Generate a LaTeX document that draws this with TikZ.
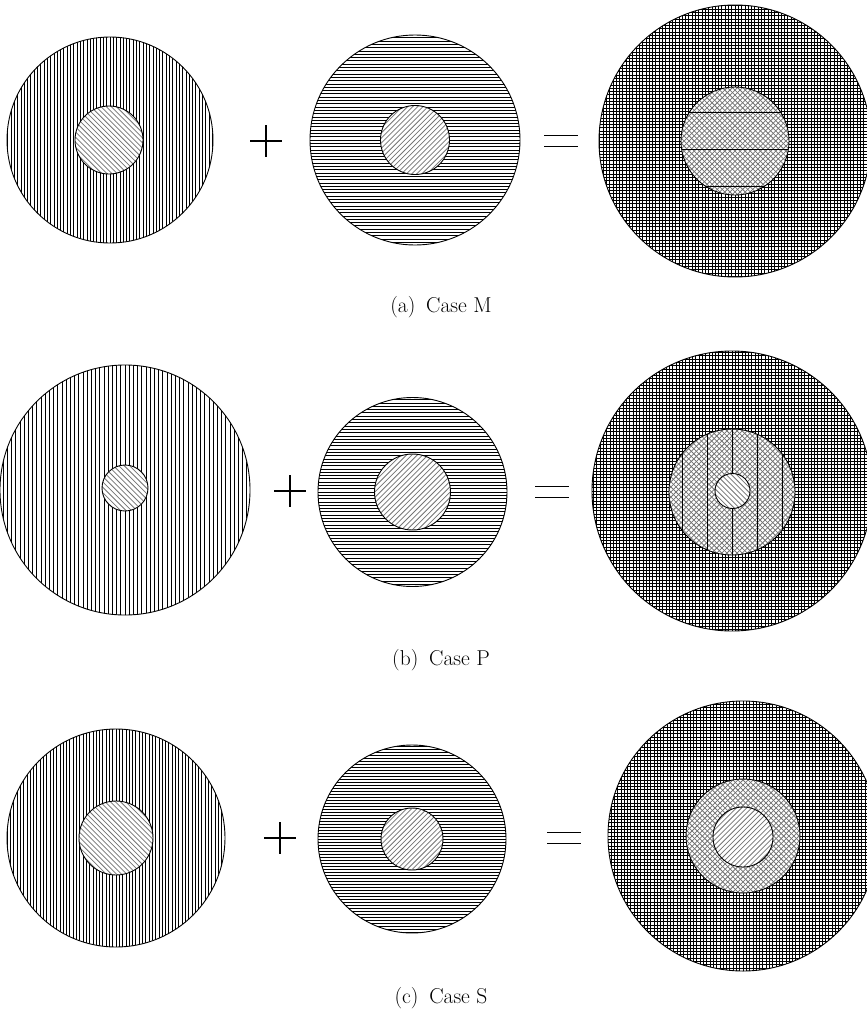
\documentclass[tikz,border=0pt]{standalone}
\usetikzlibrary{calc}
\tikzset{
  outline/.style={draw=black, line width=0.9pt},
  blk/.style={black, line width=0.75pt},
  gry/.style={black!55, line width=0.75pt},
  seam/.style={black, line width=0.8pt},
  sign/.style={line width=1.6pt, line cap=butt},
  captext/.style={font=\fontsize{21.5}{24}\selectfont, inner sep=0pt}
}
% vertical lines in a disk: cx cy r spacing style
\newcommand{\hVert}[5]{%
  \begin{scope}\clip (#1,#2) circle (#3pt);
  \pgfmathtruncatemacro\nn{#3/#4+1}
  \foreach \k in {-\nn,...,\nn}{\draw[#5] ({#1+\k*#4},{#2-#3-2}) -- ({#1+\k*#4},{#2+#3+2});}
  \end{scope}}
\newcommand{\hHorz}[5]{%
  \begin{scope}\clip (#1,#2) circle (#3pt);
  \pgfmathtruncatemacro\nn{#3/#4+1}
  \foreach \k in {-\nn,...,\nn}{\draw[#5] ({#1-#3-2},{#2+\k*#4}) -- ({#1+#3+2},{#2+\k*#4});}
  \end{scope}}
% "/" lines
\newcommand{\hNE}[5]{%
  \begin{scope}\clip (#1,#2) circle (#3pt);
  \pgfmathsetmacro\ss{#4*1.41421}
  \pgfmathtruncatemacro\nn{2*#3/\ss+1}
  \foreach \k in {-\nn,...,\nn}{\draw[#5] ({#1+\k*\ss-2*#3},{#2+2*#3}) -- ({#1+\k*\ss+2*#3},{#2-2*#3});}
  \end{scope}}
% "\" lines
\newcommand{\hNW}[5]{%
  \begin{scope}\clip (#1,#2) circle (#3pt);
  \pgfmathsetmacro\ss{#4*1.41421}
  \pgfmathtruncatemacro\nn{2*#3/\ss+1}
  \foreach \k in {-\nn,...,\nn}{\draw[#5] ({#1+\k*\ss-2*#3},{#2-2*#3}) -- ({#1+\k*\ss+2*#3},{#2+2*#3});}
  \end{scope}}
\newcommand{\wdisk}[3]{\fill[white] (#1,#2) circle (#3pt);}
\newcommand{\odisk}[3]{\draw[outline] (#1,#2) circle (#3pt);}
\newcommand{\plussign}[2]{\draw[sign] (#1-16,#2) -- (#1+16,#2); \draw[sign] (#1,#2-16) -- (#1,#2+16);}
\newcommand{\eqsign}[2]{\draw[sign] (#1-17,#2-5.5) -- (#1+17,#2-5.5); \draw[sign] (#1-17,#2+5.5) -- (#1+17,#2+5.5);}
\begin{document}
\begin{tikzpicture}[x=1pt,y=-1pt]
\useasboundingbox (0,0) rectangle (867,1010);
\fill[white] (0,0) rectangle (867,1010);
% ---------- Row (a) ----------
\hVert{110}{140}{103}{3.3}{blk}
\wdisk{109}{140}{34}\hNW{109}{140}{34}{3.6}{gry}
\odisk{110}{140}{103}\odisk{109}{140}{34}
\plussign{266}{141}
\hHorz{415}{140}{105}{3.3}{blk}
\wdisk{415}{140}{34.5}\hNE{415}{140}{34.5}{3.6}{gry}
\odisk{415}{140}{105}\odisk{415}{140}{34.5}
\eqsign{561}{141}
\begin{scope}\clip (0,0) rectangle (867,1010);
\hVert{735}{141}{136}{3.3}{blk}\hHorz{735}{141}{136}{3.3}{blk}
\wdisk{735}{141}{54}\hNE{735}{141}{54}{3.6}{gry}\hNW{735}{141}{54}{3.6}{gry}
\begin{scope}\clip (735,141) circle (54pt);
\foreach \yy in {112,149,186}{\draw[seam] (680,\yy) -- (790,\yy);}
\end{scope}
\odisk{735}{141}{136}\odisk{735}{141}{54}
\end{scope}
\node[captext] (capa) at (441,307) {(a)\enspace Case M};
% ---------- Row (b) ----------
\hVert{125}{490}{125}{4.2}{blk}
\wdisk{125}{488}{23}\hNW{125}{488}{23}{3.8}{gry}
\odisk{125}{490}{125}\odisk{125}{488}{23}
\plussign{290}{491}
\hHorz{412.5}{492}{94.5}{3.3}{blk}
\wdisk{412.5}{492}{38}\hNE{412.5}{492}{38}{3.8}{gry}
\odisk{412.5}{492}{94.5}\odisk{412.5}{492}{38}
\eqsign{552}{492}
\begin{scope}\clip (0,0) rectangle (867,1010);
\hVert{732}{491}{140}{3.3}{blk}\hHorz{732}{491}{140}{3.3}{blk}
\wdisk{732}{492}{63}\hNE{732}{492}{63}{3.6}{gry}\hNW{732}{492}{63}{3.6}{gry}
\begin{scope}\clip (732,492) circle (63pt);
\foreach \xx in {682,707,732,757,782}{\draw[seam] (\xx,420) -- (\xx,560);}
\end{scope}
\wdisk{732.5}{491}{17.5}\hNW{732.5}{491}{17.5}{3.6}{gry}
\odisk{732}{491}{140}\odisk{732}{492}{63}\odisk{732.5}{491}{17.5}
\end{scope}
\node[captext] (capb) at (441,660) {(b)\enspace Case P};
% ---------- Row (c) ----------
\hVert{116}{838}{109}{3.3}{blk}
\wdisk{116}{838}{37}\hNW{116}{838}{37}{3.6}{gry}
\odisk{116}{838}{109}\odisk{116}{838}{37}
\plussign{280}{838}
\hHorz{412}{839}{94}{3.0}{blk}
\wdisk{412}{839}{31}\hNE{412}{839}{31}{3.6}{gry}
\odisk{412}{839}{94}\odisk{412}{839}{31}
\eqsign{564}{838}
\begin{scope}\clip (0,0) rectangle (867,1010);
\hVert{743}{836}{135}{3.3}{blk}\hHorz{743}{836}{135}{3.3}{blk}
\wdisk{743}{836}{57}\hNE{743}{836}{57}{3.6}{gry}\hNW{743}{836}{57}{3.6}{gry}
\wdisk{743}{837}{30}\hNE{743}{837}{30}{3.6}{gry}
\odisk{743}{836}{135}\odisk{743}{836}{57}\odisk{743}{837}{30}
\end{scope}
\node[captext] (capc) at (441,998) {(c)\enspace Case S};
\end{tikzpicture}
\end{document}
